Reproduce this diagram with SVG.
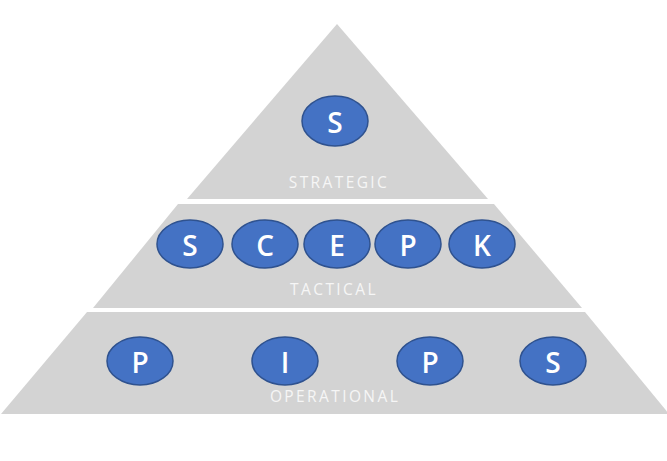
<svg xmlns="http://www.w3.org/2000/svg" width="667" height="461" viewBox="0 0 667 461">
<style>
.band{fill:#d3d3d3}
.node ellipse{fill:#4472c4;stroke:#2f528f;stroke-width:1.5}
.node text{fill:#fff;font-family:"Open Sans",Lato,sans-serif;font-size:28px;font-weight:600;text-anchor:middle;dominant-baseline:central}
.lbl{fill:#f6f6f6;font-family:"Open Sans","Liberation Sans",sans-serif;font-size:15.5px;letter-spacing:2.4px;text-anchor:middle}
</style>
<rect width="667" height="461" fill="#fff"/>
<g id="strategic">
<polygon class="band" points="337,24 488,199 187,199"/>
<text class="lbl" x="339" y="188">STRATEGIC</text>
</g>
<g id="tactical">
<polygon class="band" points="178,204 494,204 582,308 93,308"/>
<text class="lbl" x="334" y="295">TACTICAL</text>
</g>
<g id="operational">
<polygon class="band" points="87,312 585,312 669,414 1,414"/>
<text class="lbl" x="335" y="402">OPERATIONAL</text>
</g>
<g id="connectors"></g>
<g id="s1" class="node"><ellipse cx="335" cy="121" rx="33" ry="25"/><text x="335" y="122">S</text></g>
<g id="t1" class="node"><ellipse cx="190" cy="244" rx="33" ry="24"/><text x="190" y="245">S</text></g>
<g id="t2" class="node"><ellipse cx="265" cy="244" rx="33" ry="24"/><text x="265" y="245">C</text></g>
<g id="t3" class="node"><ellipse cx="337" cy="244" rx="33" ry="24"/><text x="337" y="245">E</text></g>
<g id="t4" class="node"><ellipse cx="408" cy="244" rx="33" ry="24"/><text x="408" y="245">P</text></g>
<g id="t5" class="node"><ellipse cx="482" cy="244" rx="33" ry="24"/><text x="482" y="245">K</text></g>
<g id="o1" class="node"><ellipse cx="140" cy="361" rx="33" ry="24"/><text x="140" y="362">P</text></g>
<g id="o2" class="node"><ellipse cx="285" cy="361" rx="33" ry="24"/><text x="285" y="362">I</text></g>
<g id="o3" class="node"><ellipse cx="430" cy="361" rx="33" ry="24"/><text x="430" y="362">P</text></g>
<g id="o4" class="node"><ellipse cx="553" cy="361" rx="33" ry="24"/><text x="553" y="362">S</text></g>
</svg>
